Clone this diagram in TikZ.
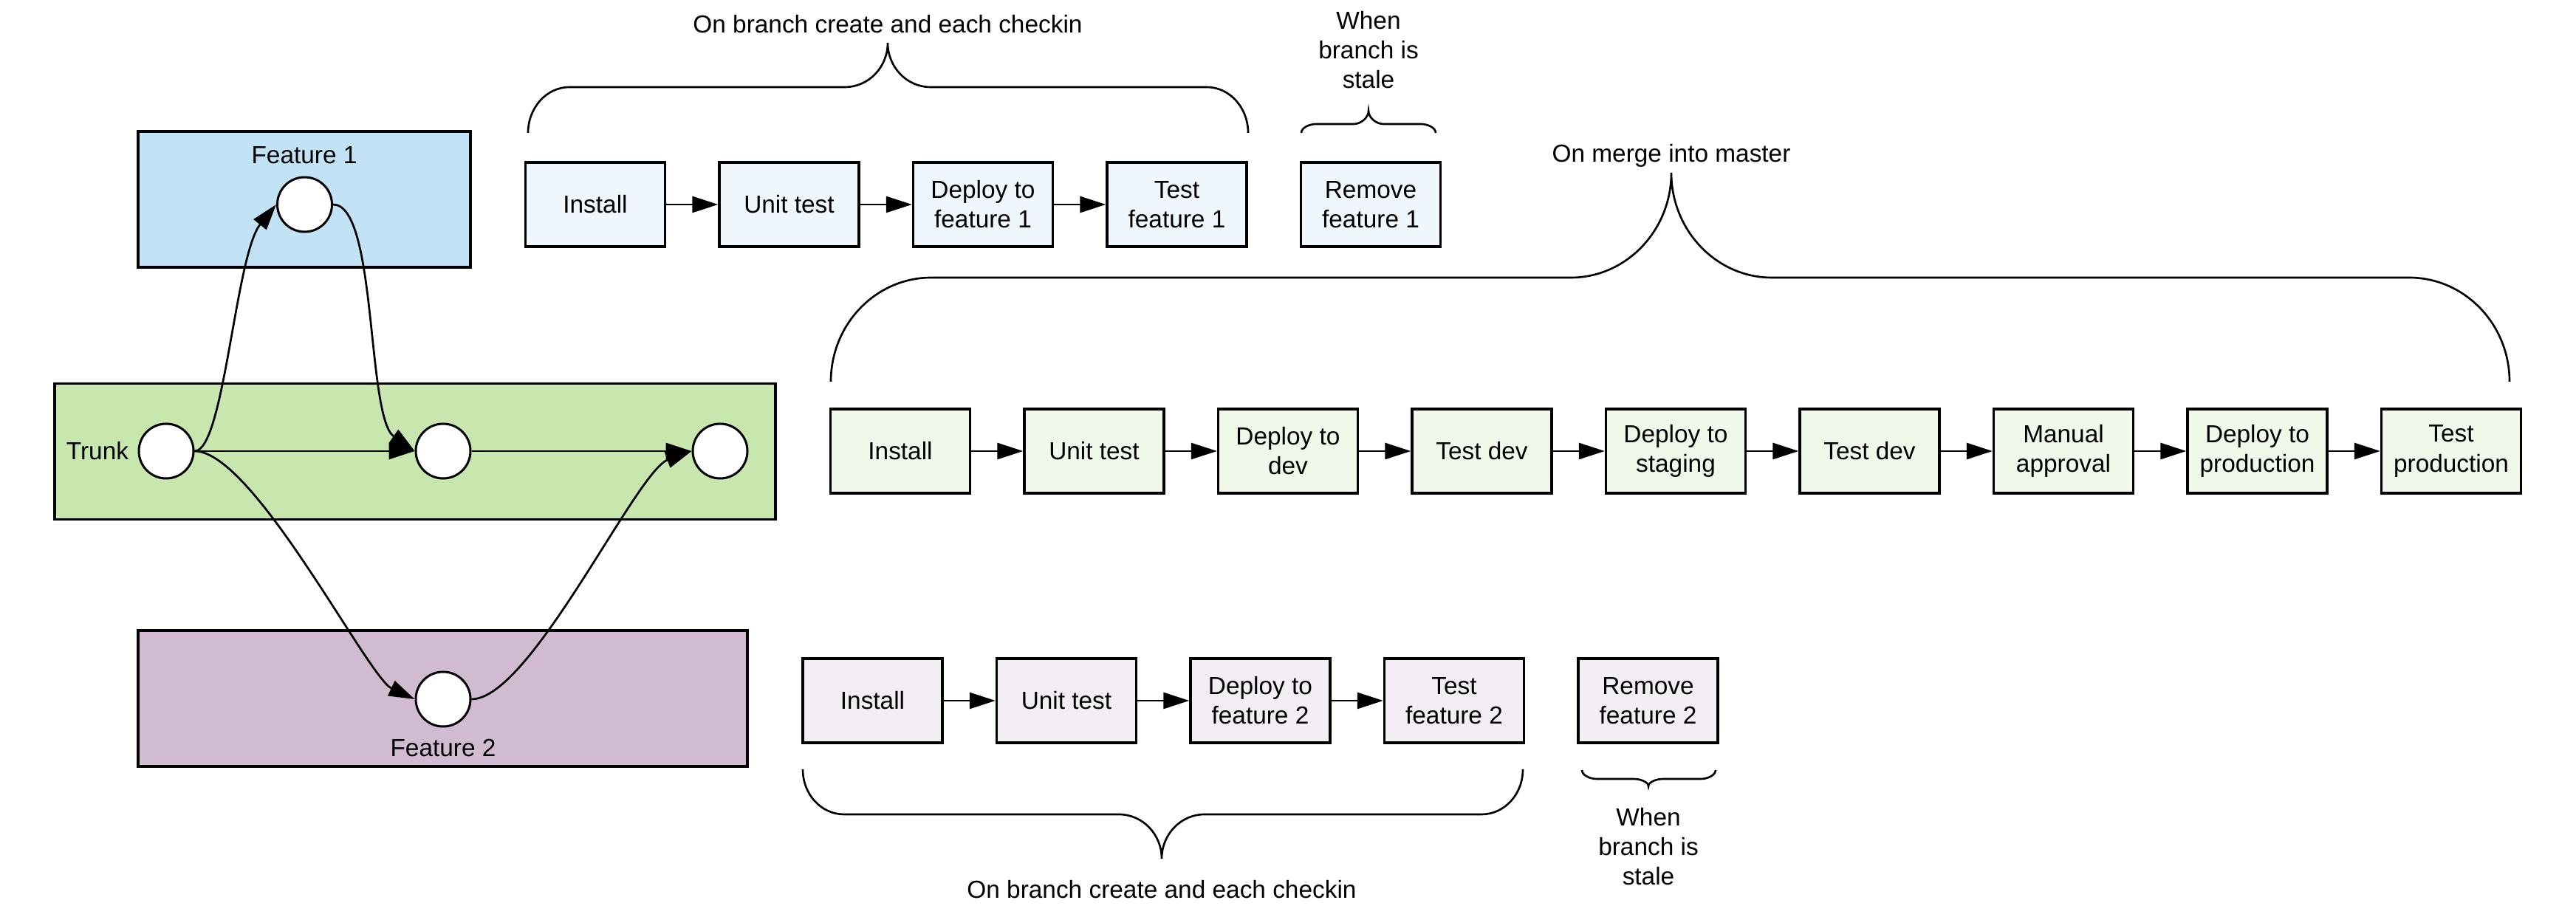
\documentclass[tikz,border=0pt]{standalone}
\usepackage{fontspec}
\setmainfont{Liberation Sans}
\usetikzlibrary{arrows.meta}
\definecolor{featOneLane}{HTML}{C2E3F5}
\definecolor{trunkLane}{HTML}{C7E7AF}
\definecolor{featTwoLane}{HTML}{D1BBD1}
\definecolor{featOneStep}{HTML}{EFF6FC}
\definecolor{masterStep}{HTML}{F0F8EA}
\definecolor{featTwoStep}{HTML}{F2EEF4}
\tikzset{
  every node/.style={text=black, font=\fontsize{9.5}{11.4}\selectfont},
  lane/.style={draw=black, line width=.9pt, minimum height=18.4mm},
  commit/.style={circle, draw=black, fill=white, line width=.85pt,
    minimum size=7.4mm, inner sep=0pt},
  stepbox/.style={draw=black, line width=.95pt, minimum width=18.9mm,
    minimum height=11.4mm, align=center, inner xsep=.5pt},
  featonestep/.style={stepbox, fill=featOneStep},
  masterstep/.style={stepbox, fill=masterStep},
  feattwostep/.style={stepbox, fill=featTwoStep},
  flow/.style={-{Triangle[length=3.5mm,width=2.2mm]}, draw=black, line width=.77pt},
  bracket/.style={draw=black, line width=.75pt},
  caption/.style={align=center}
}

\begin{document}
\begin{tikzpicture}[x=1mm,y=1mm]
\useasboundingbox (0,0) rectangle (348.8,124.2);

% ---------------------------------------------------------------------------
% Branch lanes with their commits.
% ---------------------------------------------------------------------------
\node[lane, fill=featOneLane, minimum width=45mm] (f1lane) at (41.2,97.2) {};
\node[lane, fill=trunkLane, minimum width=97.6mm] (trunklane) at (56.2,63.05) {};
\node[lane, fill=featTwoLane, minimum width=82.5mm] (f2lane) at (59.95,29.6) {};

\node (f1label) at (41.2,103.2) {Feature 1};
\node (trunklabel) at (13.2,63.1) {Trunk};
\node (f2label) at (60,22.9) {Feature 2};

\node[commit] (c1) at (41.25,96.5) {};
\node[commit] (t1) at (22.5,63.1) {};
\node[commit] (t2) at (60,63.1) {};
\node[commit] (t3) at (97.5,63.1) {};
\node[commit] (c2) at (60,29.5) {};

\draw[flow] (t1.east) to[out=0, in=231, out distance=4mm, in distance=8.8mm] (c1.west);
\draw[flow] (c1.east) to[out=0, in=145, out distance=6mm, in distance=8mm] (t2.west);
\draw[flow] (t1) -- (t2);
\draw[flow] (t2) -- (t3);
\draw[flow] (t1.east) to[out=0, in=155, out distance=8mm, in distance=7mm] (c2.west);
\draw[flow] (c2.east) to[out=0, in=200, out distance=8mm, in distance=8mm] (t3.west);

% ---------------------------------------------------------------------------
% Feature 1 pipeline.
% ---------------------------------------------------------------------------
\node[featonestep] (fa1) at (80.6,96.5) {Install};
\node[featonestep] (fa2) at (106.85,96.5) {Unit test};
\node[featonestep] (fa3) at (133.1,96.5) {Deploy to\\feature 1};
\node[featonestep] (fa4) at (159.35,96.5) {Test\\feature 1};
\node[featonestep] (fa5) at (185.6,96.5) {Remove\\feature 1};

\draw[flow] (fa1) -- (fa2);
\draw[flow] (fa2) -- (fa3);
\draw[flow] (fa3) -- (fa4);

\draw[bracket] (71.5,106.2) .. controls (71.5,109.6) and (74.0,112.4) .. (77.1,112.4)
  -- (114.4,112.4) .. controls (117.6,112.4) and (120.2,115.1) .. (120.2,118.4)
  .. controls (120.2,115.1) and (122.8,112.4) .. (126.0,112.4)
  -- (163.4,112.4) .. controls (166.5,112.4) and (169.0,109.6) .. (169.0,106.2);
\node[caption] (fatrigger) at (120.2,120.9) {On branch create and each checkin};

\draw[bracket] (176.2,106.2) .. controls (176.2,106.9) and (177.3,107.4) .. (178.2,107.4)
  -- (183.3,107.4) .. controls (184.2,107.4) and (185.3,108.2) .. (185.3,109.2)
  .. controls (185.3,108.2) and (186.4,107.4) .. (187.3,107.4)
  -- (192.4,107.4) .. controls (193.3,107.4) and (194.4,106.9) .. (194.4,106.2);
\node[caption] (fastale) at (185.3,117.4) {When\\branch is\\stale};

% ---------------------------------------------------------------------------
% Master pipeline.
% ---------------------------------------------------------------------------
\node[masterstep] (m1) at (121.9,63.1) {Install};
\node[masterstep] (m2) at (148.15,63.1) {Unit test};
\node[masterstep] (m3) at (174.4,63.1) {Deploy to\\dev};
\node[masterstep] (m4) at (200.65,63.1) {Test dev};
\node[masterstep] (m5) at (226.9,63.1) {Deploy to\\staging};
\node[masterstep] (m6) at (253.15,63.1) {Test dev};
\node[masterstep] (m7) at (279.4,63.1) {Manual\\approval};
\node[masterstep] (m8) at (305.65,63.1) {Deploy to\\production};
\node[masterstep] (m9) at (331.9,63.1) {Test\\production};

\draw[flow] (m1) -- (m2);
\draw[flow] (m2) -- (m3);
\draw[flow] (m3) -- (m4);
\draw[flow] (m4) -- (m5);
\draw[flow] (m5) -- (m6);
\draw[flow] (m6) -- (m7);
\draw[flow] (m7) -- (m8);
\draw[flow] (m8) -- (m9);

\draw[bracket] (112.5,72.5) .. controls (112.5,80.3) and (118.6,86.6) .. (126.1,86.6)
  -- (212.7,86.6) .. controls (220.2,86.6) and (226.3,93.0) .. (226.3,100.8)
  .. controls (226.3,93.0) and (232.4,86.6) .. (239.9,86.6)
  -- (326.2,86.6) .. controls (333.7,86.6) and (339.8,80.3) .. (339.8,72.5);
\node[caption] (mtrigger) at (226.3,103.1) {On merge into master};

% ---------------------------------------------------------------------------
% Feature 2 pipeline.
% ---------------------------------------------------------------------------
\node[feattwostep] (fb1) at (118.15,29.3) {Install};
\node[feattwostep] (fb2) at (144.4,29.3) {Unit test};
\node[feattwostep] (fb3) at (170.65,29.3) {Deploy to\\feature 2};
\node[feattwostep] (fb4) at (196.9,29.3) {Test\\feature 2};
\node[feattwostep] (fb5) at (223.15,29.3) {Remove\\feature 2};

\draw[flow] (fb1) -- (fb2);
\draw[flow] (fb2) -- (fb3);
\draw[flow] (fb3) -- (fb4);

\draw[bracket] (108.7,20.0) .. controls (108.7,16.6) and (111.2,13.9) .. (114.3,13.9)
  -- (151.5,13.9) .. controls (154.7,13.9) and (157.3,11.2) .. (157.3,7.9)
  .. controls (157.3,11.2) and (159.9,13.9) .. (163.1,13.9)
  -- (200.6,13.9) .. controls (203.7,13.9) and (206.2,16.6) .. (206.2,20.0);
\node[caption] (fbtrigger) at (157.3,3.7) {On branch create and each checkin};

\draw[bracket] (214.2,19.9) .. controls (214.2,19.2) and (215.3,18.7) .. (216.2,18.7)
  -- (221.2,18.7) .. controls (222.1,18.7) and (223.2,18.3) .. (223.2,17.7)
  .. controls (223.2,18.3) and (224.3,18.7) .. (225.2,18.7)
  -- (230.3,18.7) .. controls (231.2,18.7) and (232.3,19.2) .. (232.3,19.9);
\node[caption] (fbstale) at (223.2,9.5) {When\\branch is\\stale};

\end{tikzpicture}
\end{document}
